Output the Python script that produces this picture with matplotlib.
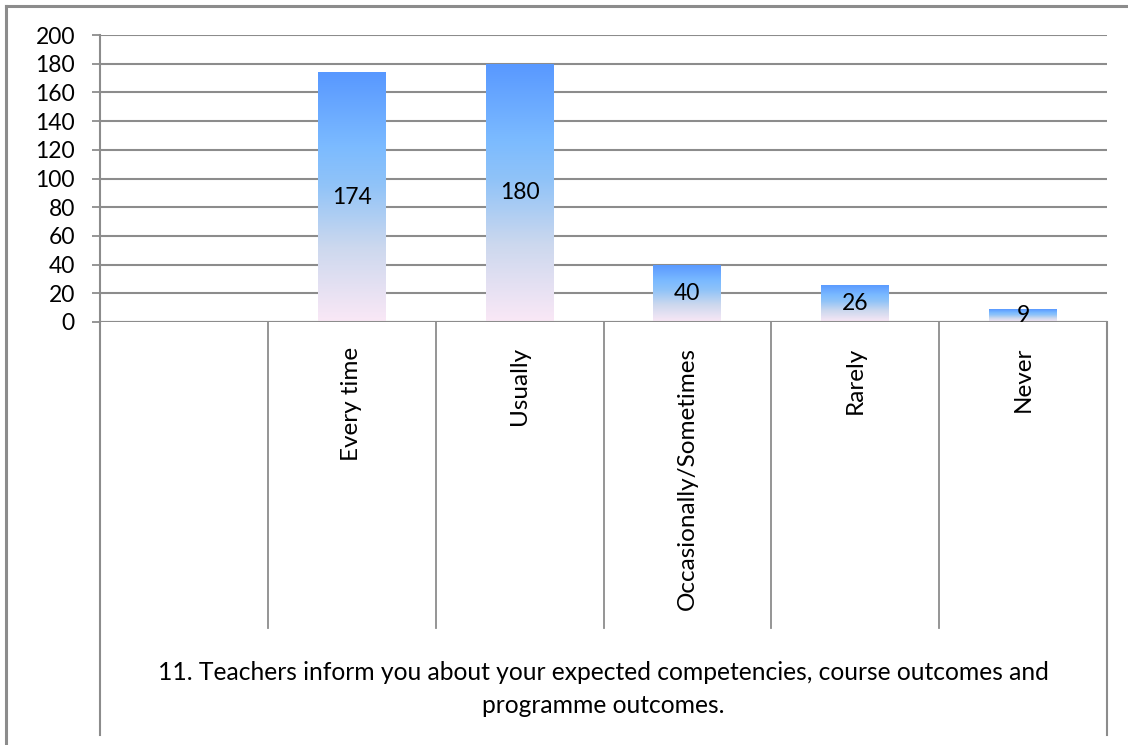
import matplotlib
matplotlib.use("Agg")
import matplotlib.pyplot as plt
import numpy as np
from matplotlib.colors import LinearSegmentedColormap
from matplotlib.lines import Line2D

categories = ["", "Every time", "Usually", "Occasionally/Sometimes", "Rarely", "Never"]
values = [0, 174, 180, 40, 26, 9]
value_labels = ["", "174", "180", "40", "26", "9"]
yticks = [0, 20, 40, 60, 80, 100, 120, 140, 160, 180, 200]
title_text = "11. Teachers inform you about your expected competencies, course outcomes and\nprogramme outcomes."

plt.rcParams['font.family'] = ['Lato', 'DejaVu Sans']

W, H = 1128, 745
fig = plt.figure(figsize=(W / 100, H / 100), dpi=100)
L, R, T, B = 100, 1107, 35, 322
ax = fig.add_axes([L / W, 1 - B / H, (R - L) / W, (B - T) / H])

grid_c = "#8C8C8C"
n = len(categories)
ax.set_xlim(0, n)
ax.set_ylim(0, 200)
ax.set_yticks(yticks)
ax.set_yticklabels([str(v) for v in yticks], fontsize=16.5)
ax.tick_params(axis='y', length=6, width=1.3, color=grid_c, pad=12)
ax.set_xticks([])
for s in ["top", "right", "bottom"]:
    ax.spines[s].set_visible(False)
ax.spines["left"].set_color(grid_c)
ax.spines["left"].set_linewidth(1.5)
ax.yaxis.grid(True, color=grid_c, linewidth=1.5)
ax.set_axisbelow(True)

cmap = LinearSegmentedColormap.from_list(
    "g", [(0.0, "#FAE8F6"), (0.3, "#CCD8EE"), (0.55, "#90C3F8"),
          (0.7, "#7CBBFF"), (1.0, "#5898FF")])
grad = np.linspace(0, 1, 256).reshape(-1, 1)

x = np.arange(n) + 0.5
bw = 0.405
bars = ax.bar(x, values, width=bw, color="none", edgecolor="none", zorder=3)
for b, v, lab in zip(bars, values, value_labels):
    if v <= 0:
        continue
    x0 = b.get_x()
    im = ax.imshow(grad, origin="lower", cmap=cmap, aspect="auto",
                   extent=[x0, x0 + b.get_width(), 0, v], zorder=3,
                   interpolation="bilinear")
    im.set_clip_path(b)
    ax.text(x0 + b.get_width() / 2, v / 2, lab, ha="center", va="center",
            fontsize=16.5, color="black", zorder=5)
ax.set_xlim(0, n)
ax.set_ylim(0, 200)

# axis line at bottom
ax.axhline(0, color=grid_c, linewidth=1.5, zorder=4)

def fy(py):
    return 1 - py / H

trans = ax.get_xaxis_transform()
for i in range(1, n):
    ax.add_line(Line2D([i, i], [0, -(628 - B) / (B - T)], transform=trans,
                       color=grid_c, linewidth=1.3, clip_on=False))
for xi in [0, n]:
    ax.add_line(Line2D([xi, xi], [0, -(735 - B) / (B - T)], transform=trans,
                       color=grid_c, linewidth=1.5, clip_on=False))

# category labels
for xi, c in zip(x, categories):
    if c:
        ax.text(xi, -(347 - B) / (B - T), c, transform=trans, rotation=90,
                ha="center", va="top", fontsize=17.5)

fig.text((L + R) / 2 / W, fy(689), title_text, ha="center", va="center",
         fontsize=17.7, linespacing=1.55)

# outer frame
fig.add_artist(Line2D([5.5 / W, 1], [fy(5.5), fy(5.5)], transform=fig.transFigure,
                      color=grid_c, linewidth=2.2))
fig.add_artist(Line2D([5.5 / W, 5.5 / W], [fy(5.5), 0], transform=fig.transFigure,
                      color=grid_c, linewidth=2.2))

fig.savefig("out.png", dpi=100)
